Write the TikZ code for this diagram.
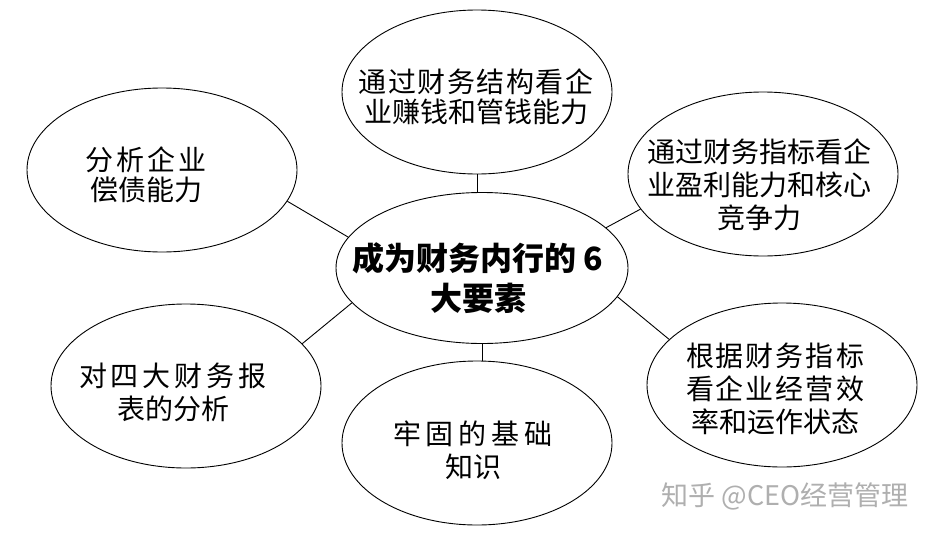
\documentclass[tikz,border=0pt]{standalone}
\usepackage{fontspec}
\newfontfamily\cjk{Noto Sans CJK SC}
\usetikzlibrary{shapes.geometric}
\newcommand\myg[1]{\hspace{#1pt}}
\begin{document}
\begin{tikzpicture}[x=1pt,y=-1pt,
  bub/.style={ellipse, draw, line width=0.9pt, minimum width=270pt, minimum height=164pt, inner sep=0pt},
  txt/.style={font=\cjk\fontsize{28}{33}\selectfont, align=center, inner sep=0pt},
  link/.style={line width=0.9pt}]
\useasboundingbox[fill=white] (0,0) rectangle (935,536);
% ellipses
\node[bub] (tl) at (162,170) {};
\node[bub] (t) at (477,92) {};
\node[bub] (tr) at (763,174) {};
\node[bub, minimum width=292pt, minimum height=151pt] (c) at (482,268) {};
\node[bub] (bl) at (186,386) {};
\node[bub] (b) at (477,443) {};
\node[bub] (br) at (782,385) {};
% texts
\node[txt, font=\cjk\fontsize{28}{30}\selectfont] (tlt) at (146,175) {分\myg{3}析\myg{3}企\myg{3}业\\偿债能力};
\node[txt, font=\cjk\fontsize{28}{30}\selectfont] (tt) at (476,97) {通\myg{1.5}过\myg{1.5}财\myg{1.5}务\myg{1.5}结\myg{1.5}构\myg{1.5}看\myg{1.5}企\\业赚钱和管钱能力};
\node[txt] (trt) at (759,185) {通过财务指标看企\\业盈利能力和核心\\竞争力};
\node[txt, font=\cjk\bfseries\fontsize{32}{40}\selectfont] (ct) at (478,278) {成为财务内行的 6\\大要素};
\node[txt] (blt) at (173,392) {对\myg{4}四\myg{4}大\myg{4}财\myg{4}务\myg{4}报\\表的分析};
\node[txt] (bt) at (473,450) {牢\myg{5}固\myg{5}的\myg{5}基\myg{5}础\\知识};
\node[txt] (brt) at (775,389) {根\myg{2}据\myg{2}财\myg{2}务\myg{2}指\myg{2}标\\看\myg{2}企\myg{2}业\myg{2}经\myg{2}营\myg{2}效\\率和运作状态};
% connectors
\draw[link] (tl.-14.7) -- (c.167.2);
\draw[link] (c.18) -- (tr.196.3);
\draw[link] (bl.20.3) -- (c.195.3);
\draw[link] (c.-12.5) -- (br.158);
\draw[link] (t.south) -- (t.south |- c.north);
\draw[link] (c.south) -- (c.south |- b.north);
% watermark
\node[font=\cjk\fontsize{27}{30}\selectfont, text={rgb,255:red,175;green,175;blue,175}, inner sep=0pt] (wm) at (785,496) {知乎 @CEO经营管理};
\end{tikzpicture}
\end{document}
